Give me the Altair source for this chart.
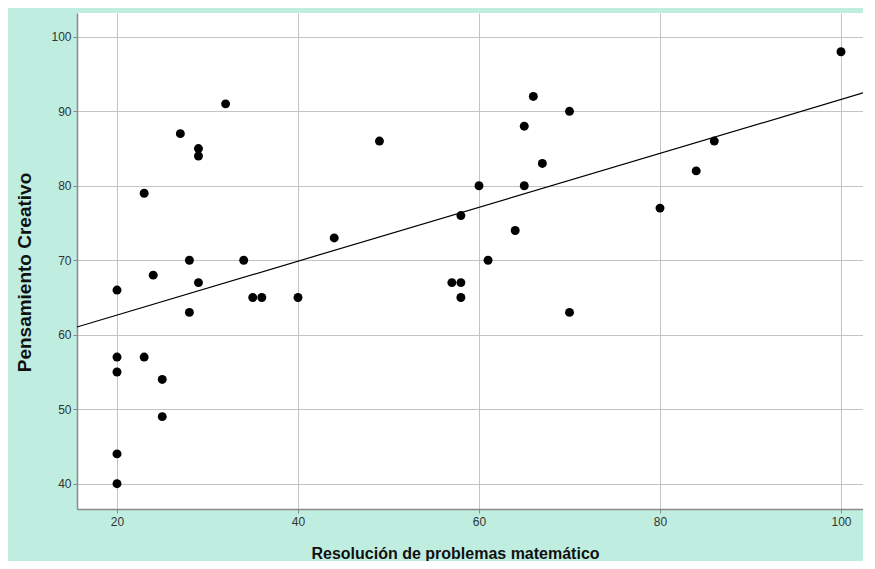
import altair as alt
import pandas as pd

# Resolución de problemas matemático (x) and Pensamiento Creativo (y)
resolucion = [20, 20, 20, 20, 20, 23, 23, 24, 25, 25,
              27, 28, 28, 29, 29, 29, 32, 34, 35, 36,
              40, 44, 49, 57, 58, 58, 58, 60, 61, 64,
              65, 65, 66, 67, 70, 70, 80, 84, 86, 100]
pensamiento = [66, 57, 55, 44, 40, 79, 57, 68, 54, 49,
               87, 70, 63, 85, 84, 67, 91, 70, 65, 65,
               65, 73, 86, 67, 67, 65, 76, 80, 70, 74,
               88, 80, 92, 83, 90, 63, 77, 82, 86, 98]

x_ticks = [20, 40, 60, 80, 100]
y_ticks = [40, 50, 60, 70, 80, 90, 100]

df = pd.DataFrame({"x": resolucion, "y": pensamiento})

PLOT_W = 786
PLOT_H = 496
PX_PER_X = 9.05
x_min = 15.58
x_max = x_min + PLOT_W / PX_PER_X
y_min, y_max = 36.6, 103.2

x_scale = alt.Scale(domain=[x_min, x_max], nice=False, zero=False)
y_scale = alt.Scale(domain=[y_min, y_max], nice=False, zero=False)

x_axis = alt.Axis(values=x_ticks, title="Resolución de problemas matemático",
                  titleX=378, titleAlign="center", titlePadding=18,
                  labelPadding=3, titleFontSize=16)
y_axis = alt.Axis(values=y_ticks, title="Pensamiento Creativo",
                  titlePadding=16, labelPadding=2, titleFontSize=19,
                  titleY=259)

points = alt.Chart(df).mark_circle(size=80, color="black", opacity=1).encode(
    x=alt.X("x:Q", scale=x_scale, axis=x_axis),
    y=alt.Y("y:Q", scale=y_scale, axis=y_axis),
)

fit = alt.Chart(df).transform_regression(
    "x", "y", extent=[x_min, x_max]
).mark_line(color="black", strokeWidth=1.2).encode(
    x=alt.X("x:Q", scale=x_scale),
    y=alt.Y("y:Q", scale=y_scale),
)

chart = alt.layer(fit, points).properties(
    width=PLOT_W,
    height=PLOT_H,
    background="#bfeee0",
    padding={"left": 69, "top": 5, "right": 0, "bottom": 52},
    autosize=alt.AutoSizeParams(type="none"),
).configure_view(
    fill="white", stroke=None
).configure_axis(
    labelFont="Liberation Sans", labelFontSize=12, labelColor="#333333",
    titleFont="Liberation Sans", titleFontWeight="bold",
    titleColor="#111111",
    domainColor="#8a8a8a", domainWidth=1.5,
    tickColor="#8a8a8a", tickSize=4,
    gridColor="#c4c4c4", gridWidth=1, gridOpacity=1,
)

chart.save("out.html", embed_options={"renderer": "svg", "actions": False})
